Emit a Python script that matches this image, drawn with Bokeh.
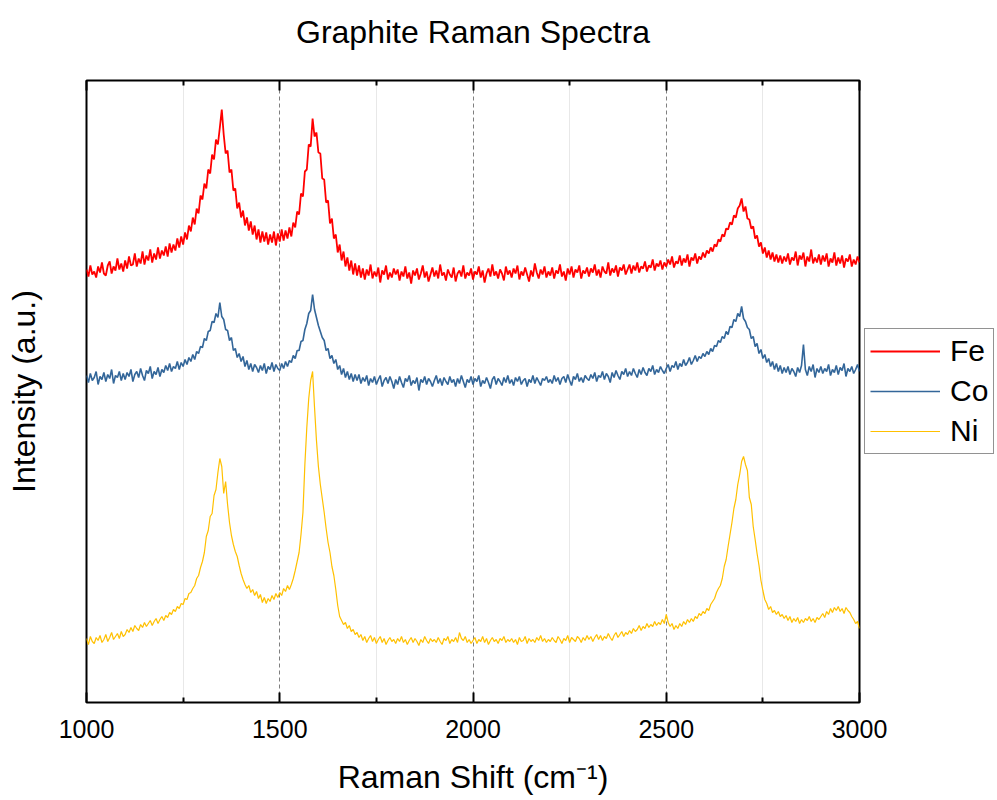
from bokeh.plotting import figure
from bokeh.models import (Range1d, FixedTicker, LinearAxis, Legend, LegendItem,
                          CustomJSTickFormatter)
from bokeh.embed import file_html
from bokeh.resources import INLINE

# Raman shift grid (cm^-1), 5 cm^-1 step
shift = list(range(1000, 3001, 5))

# Intensities (a.u., offset-stacked as in the original figure)
fe = [
    433, 426, 437, 428, 431, 425, 436, 430, 440, 429, 427, 437, 441, 429, 436, 432, 444, 433, 439, 431,  # 1000
    442, 434, 446, 437, 438, 449, 436, 444, 439, 451, 438, 447, 442, 453, 440, 449, 443, 455, 444, 452,  # 1100
    447, 456, 446, 459, 450, 458, 452, 464, 455, 466, 458, 470, 463, 477, 471, 485, 478, 494, 489, 507,  # 1200
    503, 519, 514, 533, 529, 548, 543, 563, 558, 575, 593, 568, 549, 552, 530, 533, 512, 514, 494, 500,  # 1300
    485, 492, 477, 485, 472, 481, 468, 477, 463, 473, 460, 471, 461, 470, 458, 468, 460, 471, 457, 469,  # 1400
    461, 473, 462, 472, 464, 475, 466, 480, 475, 491, 488, 509, 506, 531, 533, 558, 556, 584, 566, 570,  # 1500
    550, 549, 524, 523, 500, 502, 479, 484, 464, 468, 450, 458, 442, 451, 436, 445, 432, 442, 428, 439,  # 1600
    427, 437, 425, 434, 423, 433, 427, 438, 424, 431, 426, 435, 420, 432, 428, 437, 423, 430, 425, 434,  # 1700
    428, 433, 422, 431, 426, 436, 424, 430, 419, 432, 427, 434, 423, 429, 437, 425, 431, 421, 428, 435,  # 1800
    426, 432, 424, 438, 427, 430, 422, 433, 428, 425, 435, 421, 429, 432, 426, 437, 424, 430, 427, 434,  # 1900
    423, 431, 428, 436, 425, 432, 420, 429, 434, 426, 438, 427, 431, 424, 433, 429, 422, 436, 428, 432,  # 2000
    425, 434, 429, 437, 423, 431, 427, 435, 428, 421, 432, 426, 439, 430, 424, 433, 428, 436, 425, 431,  # 2100
    427, 435, 424, 432, 429, 438, 426, 431, 422, 434, 428, 436, 425, 433, 430, 437, 424, 432, 429, 435,  # 2200
    426, 434, 430, 438, 427, 433, 425, 436, 431, 429, 440, 427, 434, 430, 437, 426, 435, 432, 438, 428,  # 2300
    433, 438, 429, 437, 432, 440, 430, 436, 434, 441, 431, 437, 435, 443, 432, 439, 436, 442, 433, 440,  # 2400
    436, 443, 438, 446, 435, 441, 439, 447, 437, 444, 440, 448, 436, 445, 442, 449, 439, 446, 443, 450,  # 2500
    445, 452, 449, 455, 451, 458, 456, 463, 461, 468, 466, 474, 473, 480, 478, 487, 485, 494, 497, 504,  # 2600
    491, 496, 484, 483, 474, 476, 464, 467, 456, 460, 449, 455, 445, 452, 443, 450, 441, 448, 440, 447,  # 2700
    439, 446, 441, 449, 438, 445, 442, 451, 437, 447, 443, 450, 436, 446, 441, 453, 439, 445, 440, 448,  # 2800
    438, 447, 441, 449, 436, 444, 440, 450, 437, 445, 439, 447, 435, 444, 441, 448, 436, 443, 438, 446,  # 2900
    440,
]

co = [
    327, 320, 329, 322, 325, 331, 318, 326, 323, 330, 321, 328, 324, 333, 319, 327, 325, 331, 322, 329,  # 1000
    323, 330, 326, 333, 321, 328, 331, 325, 334, 327, 322, 332, 329, 336, 324, 331, 328, 335, 326, 333,  # 1100
    330, 337, 332, 339, 331, 336, 334, 341, 333, 340, 336, 343, 338, 345, 341, 348, 343, 351, 349, 356,  # 1200
    355, 364, 362, 371, 372, 381, 380, 389, 385, 400, 386, 383, 373, 372, 362, 365, 352, 354, 345, 349,  # 1300
    341, 346, 336, 342, 333, 339, 331, 338, 335, 330, 337, 332, 339, 329, 336, 333, 340, 331, 338, 334,  # 1400
    332, 339, 334, 341, 336, 342, 340, 347, 344, 352, 352, 361, 362, 373, 379, 389, 392, 408, 393, 385,  # 1500
    377, 371, 365, 362, 352, 354, 344, 347, 339, 343, 333, 337, 328, 334, 325, 331, 323, 329, 321, 328,  # 1600
    322, 328, 319, 325, 321, 327, 317, 324, 320, 326, 318, 323, 327, 316, 322, 325, 319, 326, 321, 314,  # 1700
    323, 318, 326, 320, 315, 324, 321, 327, 317, 322, 319, 325, 312, 323, 320, 326, 318, 324, 321, 316,  # 1800
    322, 327, 319, 324, 317, 325, 321, 318, 326, 320, 323, 316, 324, 319, 327, 321, 315, 323, 320, 326,  # 1900
    318, 324, 321, 327, 316, 322, 319, 325, 320, 314, 323, 326, 318, 324, 321, 317, 325, 320, 327, 319,  # 2000
    323, 317, 325, 321, 326, 318, 322, 324, 316, 323, 320, 327, 319, 325, 321, 317, 324, 322, 326, 320,  # 2100
    323, 319, 327, 321, 325, 318, 324, 326, 320, 328, 322, 317, 326, 323, 329, 321, 325, 320, 327, 324,  # 2200
    322, 328, 324, 330, 321, 327, 325, 331, 323, 329, 326, 320, 330, 325, 332, 327, 323, 331, 328, 334,  # 2300
    326, 331, 327, 334, 329, 325, 333, 328, 335, 330, 327, 334, 331, 337, 328, 333, 330, 336, 332, 329,  # 2400
    334, 338, 331, 337, 335, 341, 333, 339, 336, 343, 337, 340, 345, 338, 342, 347, 341, 346, 344, 349,  # 2500
    346, 351, 348, 354, 351, 357, 356, 362, 360, 366, 364, 371, 368, 376, 375, 383, 381, 389, 386, 396,  # 2600
    384, 381, 375, 373, 364, 366, 356, 359, 349, 353, 344, 348, 340, 344, 336, 341, 333, 339, 331, 337,  # 2700
    329, 335, 330, 336, 328, 334, 331, 326, 335, 330, 337, 358, 333, 327, 336, 331, 338, 325, 334, 330,  # 2800
    336, 329, 334, 331, 338, 327, 333, 330, 337, 328, 335, 332, 339, 326, 334, 331, 336, 329, 333, 338,  # 2900
    331,
]

ni = [
    64, 58, 66, 61, 59, 65, 62, 67, 60, 63, 68, 61, 65, 70, 63, 66, 69, 64, 71, 66,  # 1000
    68, 73, 70, 75, 71, 77, 74, 72, 78, 75, 80, 76, 79, 82, 77, 81, 84, 79, 83, 86,  # 1100
    82, 87, 85, 90, 88, 93, 91, 96, 94, 99, 98, 104, 103, 109, 110, 114, 117, 124, 127, 135,  # 1200
    141, 150, 166, 172, 186, 189, 207, 213, 230, 244, 236, 209, 221, 198, 180, 167, 158, 151, 146, 137,  # 1300
    129, 123, 118, 114, 117, 110, 113, 107, 111, 104, 108, 100, 105, 99, 104, 101, 107, 103, 109, 105,  # 1400
    110, 107, 114, 111, 117, 113, 118, 124, 132, 141, 150, 168, 190, 238, 275, 304, 322, 331, 295, 262,  # 1500
    236, 218, 204, 190, 174, 160, 150, 136, 127, 113, 97, 86, 82, 78, 80, 74, 77, 71, 73, 68,  # 1600
    70, 65, 68, 62, 66, 60, 64, 67, 61, 65, 59, 63, 66, 60, 64, 58, 62, 65, 61, 63,  # 1700
    59, 64, 61, 66, 60, 63, 58, 62, 65, 60, 64, 61, 57, 63, 60, 66, 62, 59, 64, 61,  # 1800
    63, 60, 65, 61, 58, 64, 62, 66, 59, 63, 61, 65, 60, 70, 64, 62, 66, 60, 63, 59,  # 1900
    62, 65, 59, 63, 61, 66, 60, 64, 58, 62, 65, 61, 63, 59, 64, 62, 66, 60, 63, 61,  # 2000
    64, 60, 63, 58, 65, 61, 62, 66, 59, 64, 61, 63, 60, 65, 62, 67, 61, 64, 60, 63,  # 2100
    61, 65, 62, 60, 66, 63, 59, 64, 62, 67, 60, 65, 63, 61, 66, 64, 60, 65, 62, 67,  # 2200
    63, 66, 61, 65, 68, 63, 67, 62, 66, 64, 69, 65, 62, 67, 70, 65, 68, 71, 66, 70,  # 2300
    68, 72, 69, 74, 71, 73, 77, 72, 76, 74, 79, 75, 78, 76, 81, 77, 80, 78, 83, 79,  # 2400
    88, 80, 76, 79, 73, 77, 74, 79, 76, 81, 78, 83, 80, 84, 81, 86, 84, 89, 87, 91,  # 2500
    89, 94, 92, 98, 101, 104, 110, 114, 117, 124, 136, 143, 156, 168, 180, 194, 203, 218, 228, 241,  # 2600
    246, 238, 232, 205, 198, 176, 163, 149, 137, 122, 112, 103, 99, 93, 96, 90, 92, 88, 91, 86,  # 2700
    88, 84, 87, 82, 86, 80, 84, 81, 85, 79, 83, 80, 84, 82, 86, 81, 84, 80, 85, 83,  # 2800
    86, 89, 85, 91, 88, 94, 90, 95, 92, 96, 91, 94, 89, 95, 92, 90, 86, 83, 79, 81,  # 2900
    74,
]

chart_title = "Graphite Raman Spectra"
series_names = ["Fe", "Co", "Ni"]
series_colors = ["#ff0000", "#336699", "#ffc000"]
series_widths = [1.8, 1.6, 1.2]
x_ticks = [1000, 1500, 2000, 2500, 3000]
x_minor_ticks = [1250, 1750, 2250, 2750]

FONT = "Liberation Sans"

p = figure(frame_width=773, frame_height=622, output_backend="svg", toolbar_location=None,
           x_range=Range1d(1000, 3000), y_range=Range1d(0, 622),
           min_border_left=86, min_border_right=138, min_border_top=80,
           min_border_bottom=98)
p.background_fill_color = "white"
p.border_fill_color = "white"
p.outline_line_color = "black"
p.outline_line_width = 2

ticker = FixedTicker(ticks=x_ticks, minor_ticks=x_minor_ticks)

xa = p.xaxis[0]
xa.ticker = ticker
xa.axis_line_color = None
xa.major_tick_in = 10
xa.major_tick_out = 0
xa.minor_tick_in = 5
xa.minor_tick_out = 0
xa.major_tick_line_width = 2
xa.minor_tick_line_width = 2
xa.major_tick_line_color = "black"
xa.minor_tick_line_color = "black"
xa.major_label_standoff = 17
xa.major_label_text_font = FONT
xa.major_label_text_font_size = "25px"
xa.major_label_text_color = "black"
xa.axis_label = "Raman Shift (cm⁻¹)"
xa.axis_label_text_font = FONT
xa.axis_label_text_font_size = "32px"
xa.axis_label_text_font_style = "normal"
xa.axis_label_text_color = "black"
xa.axis_label_standoff = 18

# top frame axis: inward ticks, carries the chart title
top = LinearAxis(ticker=ticker, formatter=CustomJSTickFormatter(code="return ''"))
top.axis_line_color = None
top.major_tick_in = 10
top.major_tick_out = 0
top.minor_tick_in = 5
top.minor_tick_out = 0
top.major_tick_line_width = 2
top.minor_tick_line_width = 2
top.major_label_standoff = 0
top.major_label_text_font_size = "1px"
top.axis_label = chart_title
top.axis_label_text_font = FONT
top.axis_label_text_font_size = "32px"
top.axis_label_text_font_style = "normal"
top.axis_label_text_color = "black"
top.axis_label_standoff = 31
p.add_layout(top, "above")

ya = p.yaxis[0]
ya.ticker = FixedTicker(ticks=[])
ya.axis_line_color = None
ya.major_tick_line_color = None
ya.minor_tick_line_color = None
ya.axis_label = "Intensity (a.u.)"
ya.axis_label_text_font = FONT
ya.axis_label_text_font_size = "32px"
ya.axis_label_text_font_style = "normal"
ya.axis_label_text_color = "black"
ya.axis_label_standoff = 45

p.ygrid.grid_line_color = None
p.xgrid.ticker = ticker
p.xgrid.grid_line_color = "#7f7f7f"
p.xgrid.grid_line_dash = "4 3"
p.xgrid.grid_line_width = 1
p.xgrid.minor_grid_line_color = "#d0d0d0"
p.xgrid.minor_grid_line_dash = "1 1"
p.xgrid.minor_grid_line_width = 1

renderers = []
for vals, color, w in zip([fe, co, ni], series_colors, series_widths):
    r = p.line(shift, vals, line_color=color, line_width=w)
    renderers.append(r)

legend = Legend(items=[LegendItem(label=n, renderers=[r]) for n, r in zip(series_names, renderers)],
                location="center_left", orientation="vertical")
legend.border_line_color = "#262626"
legend.border_line_width = 1
legend.background_fill_color = "white"
legend.background_fill_alpha = 1
legend.padding = 5
legend.spacing = 6
legend.margin = 5
legend.glyph_width = 70
legend.glyph_height = 20
legend.label_standoff = 10
legend.label_height = 20
legend.label_text_font = FONT
legend.label_text_font_size = "30px"
legend.label_text_color = "black"
p.add_layout(legend, "right")

open("out.html", "w").write(file_html(p, INLINE))
